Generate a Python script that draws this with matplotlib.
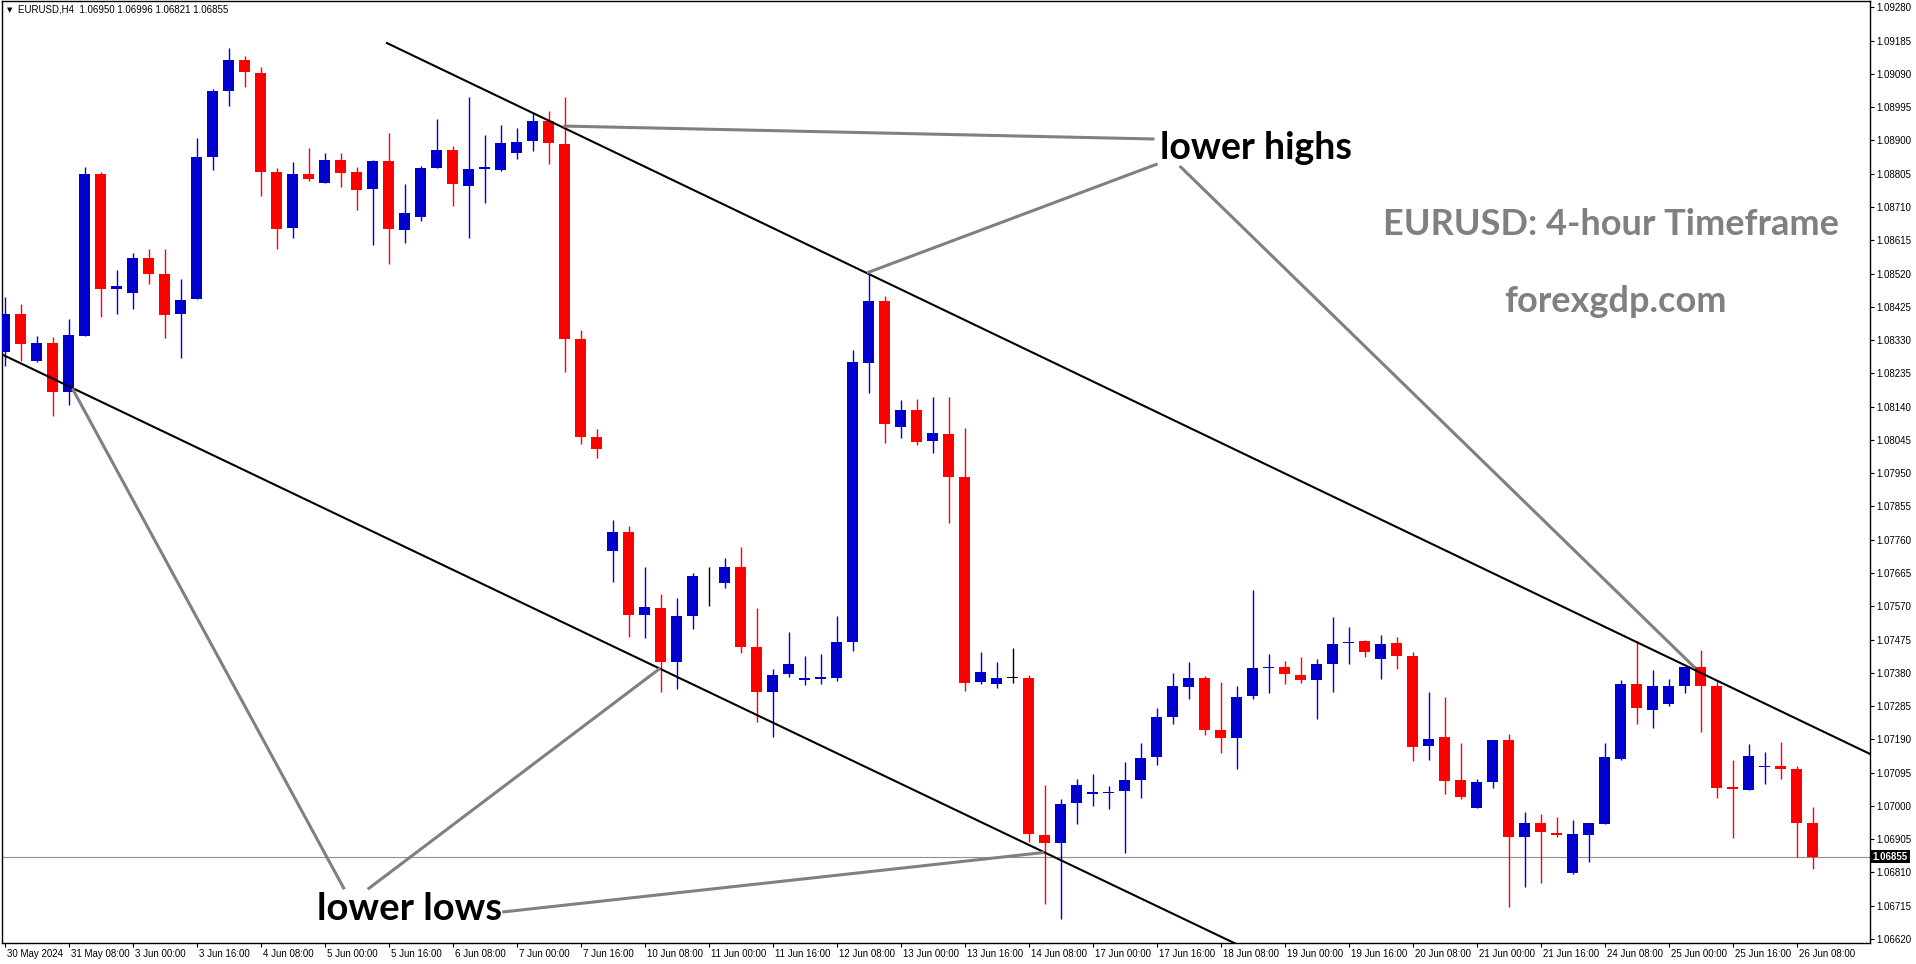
import matplotlib
matplotlib.use("Agg")
import matplotlib.pyplot as plt
import numpy as np
from matplotlib import transforms

symbol = "EURUSD,H4"
last_ohlc = "1.06950 1.06996 1.06821 1.06855"

# EURUSD H4 candles, 30 May 16:00 -> 26 Jun 12:00
opens = [1.08296, 1.08403, 1.08269, 1.08322, 1.08183, 1.08341, 1.08805, 1.08475, 1.08464, 1.08564,
         1.08519, 1.08404, 1.08447, 1.08852, 1.09040, 1.09129, 1.09092, 1.08810, 1.08650, 1.08805,
         1.08778, 1.08845, 1.08810, 1.08761, 1.08841, 1.08643, 1.08680, 1.08820, 1.08873, 1.08771,
         1.08819, 1.08815, 1.08864, 1.08898, 1.08955, 1.08891, 1.08334, 1.08054, 1.07727, 1.07783,
         1.07545, 1.07564, 1.07411, 1.07541, 1.07641, 1.07636, 1.07683, 1.07455, 1.07325, 1.07376,
         1.07359, 1.07362, 1.07364, 1.07468, 1.08264, 1.08441, 1.08083, 1.08131, 1.08041, 1.08062,
         1.07940, 1.07353, 1.07348, 1.07366, 1.07366, 1.06918, 1.06894, 1.07008, 1.07034, 1.07038,
         1.07043, 1.07074, 1.07139, 1.07253, 1.07339, 1.07364, 1.07217, 1.07194, 1.07313, 1.07394,
         1.07397, 1.07373, 1.07359, 1.07404, 1.07464, 1.07471, 1.07418, 1.07464, 1.07429, 1.07171,
         1.07196, 1.07073, 1.06994, 1.07068, 1.07187, 1.06911, 1.06950, 1.06924, 1.06808, 1.06916,
         1.06948, 1.07134, 1.07348, 1.07275, 1.07290, 1.07343, 1.07397, 1.07341, 1.07053, 1.07046,
         1.07111, 1.07115, 1.07106, 1.06950]
highs = [1.08454, 1.08434, 1.08341, 1.08338, 1.08389, 1.08824, 1.08810, 1.08531, 1.08578, 1.08590,
         1.08590, 1.08503, 1.08908, 1.09047, 1.09164, 1.09141, 1.09110, 1.08822, 1.08838, 1.08878,
         1.08864, 1.08864, 1.08824, 1.08845, 1.08922, 1.08776, 1.08826, 1.08961, 1.08885, 1.09024,
         1.08915, 1.08945, 1.08936, 1.08980, 1.08985, 1.09024, 1.08359, 1.08075, 1.07817, 1.07799,
         1.07683, 1.07606, 1.07594, 1.07666, 1.07683, 1.07708, 1.07739, 1.07566, 1.07392, 1.07497,
         1.07429, 1.07434, 1.07543, 1.08303, 1.08522, 1.08457, 1.08159, 1.08162, 1.08166, 1.08166,
         1.08080, 1.07439, 1.07411, 1.07452, 1.07373, 1.07060, 1.07020, 1.07076, 1.07092, 1.07057,
         1.07125, 1.07180, 1.07280, 1.07380, 1.07411, 1.07371, 1.07355, 1.07343, 1.07617, 1.07434,
         1.07415, 1.07425, 1.07420, 1.07538, 1.07510, 1.07475, 1.07489, 1.07482, 1.07438, 1.07324,
         1.07310, 1.07180, 1.07076, 1.07188, 1.07206, 1.06983, 1.06978, 1.06969, 1.06959, 1.06950,
         1.07180, 1.07360, 1.07471, 1.07389, 1.07362, 1.07397, 1.07445, 1.07357, 1.07132, 1.07178,
         1.07153, 1.07183, 1.07115, 1.06996]
lows = [1.08257, 1.08269, 1.08266, 1.08113, 1.08145, 1.08341, 1.08396, 1.08404, 1.08420, 1.08490,
        1.08336, 1.08278, 1.08447, 1.08815, 1.08998, 1.09052, 1.08741, 1.08589, 1.08620, 1.08783,
        1.08778, 1.08766, 1.08701, 1.08601, 1.08547, 1.08606, 1.08669, 1.08820, 1.08712, 1.08620,
        1.08720, 1.08812, 1.08848, 1.08871, 1.08833, 1.08240, 1.08033, 1.07994, 1.07640, 1.07482,
        1.07480, 1.07325, 1.07334, 1.07504, 1.07571, 1.07622, 1.07436, 1.07239, 1.07197, 1.07367,
        1.07345, 1.07348, 1.07357, 1.07441, 1.08178, 1.08036, 1.08050, 1.08031, 1.08008, 1.07808,
        1.07327, 1.07348, 1.07336, 1.07350, 1.06897, 1.06720, 1.06678, 1.06948, 1.06999, 1.06990,
        1.06866, 1.07022, 1.07117, 1.07234, 1.07304, 1.07203, 1.07152, 1.07104, 1.07304, 1.07322,
        1.07348, 1.07352, 1.07248, 1.07325, 1.07406, 1.07425, 1.07362, 1.07390, 1.07129, 1.07131,
        1.07034, 1.07020, 1.06994, 1.07052, 1.06711, 1.06769, 1.06780, 1.06911, 1.06806, 1.06839,
        1.06948, 1.07131, 1.07234, 1.07222, 1.07285, 1.07322, 1.07211, 1.07022, 1.06908, 1.07045,
        1.07062, 1.07076, 1.06855, 1.06821]
closes = [1.08403, 1.08318, 1.08322, 1.08183, 1.08345, 1.08805, 1.08475, 1.08485, 1.08564, 1.08520,
          1.08401, 1.08445, 1.08854, 1.09041, 1.09129, 1.09094, 1.08810, 1.08647, 1.08805, 1.08789,
          1.08845, 1.08806, 1.08757, 1.08841, 1.08647, 1.08694, 1.08822, 1.08873, 1.08775, 1.08819,
          1.08824, 1.08892, 1.08896, 1.08955, 1.08892, 1.08333, 1.08054, 1.08018, 1.07783, 1.07545,
          1.07568, 1.07411, 1.07543, 1.07657, 1.07641, 1.07683, 1.07453, 1.07325, 1.07374, 1.07406,
          1.07364, 1.07369, 1.07469, 1.08268, 1.08441, 1.08090, 1.08131, 1.08040, 1.08066, 1.07938,
          1.07350, 1.07383, 1.07366, 1.07366, 1.06920, 1.06894, 1.07006, 1.07059, 1.07039, 1.07041,
          1.07073, 1.07138, 1.07255, 1.07341, 1.07364, 1.07217, 1.07194, 1.07311, 1.07394, 1.07397,
          1.07376, 1.07359, 1.07406, 1.07461, 1.07469, 1.07438, 1.07462, 1.07427, 1.07168, 1.07192,
          1.07071, 1.07025, 1.07069, 1.07187, 1.06911, 1.06950, 1.06925, 1.06918, 1.06920, 1.06950,
          1.07139, 1.07348, 1.07280, 1.07343, 1.07343, 1.07397, 1.07343, 1.07052, 1.07048, 1.07143,
          1.07115, 1.07106, 1.06950, 1.06855]

time_labels = ["30 May 2024", "31 May 08:00", "3 Jun 00:00", "3 Jun 16:00", "4 Jun 08:00",
               "5 Jun 00:00", "5 Jun 16:00", "6 Jun 08:00", "7 Jun 00:00", "7 Jun 16:00",
               "10 Jun 08:00", "11 Jun 00:00", "11 Jun 16:00", "12 Jun 08:00", "13 Jun 00:00",
               "13 Jun 16:00", "14 Jun 08:00", "17 Jun 00:00", "17 Jun 16:00", "18 Jun 08:00",
               "19 Jun 00:00", "19 Jun 16:00", "20 Jun 08:00", "21 Jun 00:00", "21 Jun 16:00",
               "24 Jun 08:00", "25 Jun 00:00", "25 Jun 16:00", "26 Jun 08:00"]
price_ticks = [1.09280, 1.09185, 1.09090, 1.08995, 1.08900, 1.08805, 1.08710, 1.08615, 1.08520,
               1.08425, 1.08330, 1.08235, 1.08140, 1.08045, 1.07950, 1.07855, 1.07760, 1.07665,
               1.07570, 1.07475, 1.07380, 1.07285, 1.07190, 1.07095, 1.07000, 1.06905, 1.06810,
               1.06715, 1.06620]
bid = 1.06855

# drawn objects (bar index, price)
upper_channel = ([23.88, 116.59], [1.09178, 1.07148])
lower_channel = ([-0.175, 77.0], [1.08289, 1.06605])
highs_pointers = [([34.91, 71.85], [1.08941, 1.08904]),
                  ([53.89, 72.05], [1.08522, 1.08833]),
                  ([73.43, 105.64], [1.08827, 1.07394])]
lows_pointers = [([4.22, 21.22], [1.08192, 1.06762]),
                 ([22.68, 40.96], [1.06762, 1.07393]),
                 ([31.09, 64.94], [1.06697, 1.06867])]

BLUE = "#0000CD"
RED = "#FF0000"
small = ["Liberation Sans", "DejaVu Sans"]

fig = plt.figure(figsize=(19.16, 9.64), dpi=100)
ax = fig.add_axes([2 / 1916, 21 / 964, 1868 / 1916, 942 / 964])

o = np.array(opens)
h = np.array(highs)
l = np.array(lows)
c = np.array(closes)
x = np.arange(len(o))
cols = np.where(c > o, BLUE, np.where(c < o, RED, "black"))

ax.vlines(x, l, h, colors=cols, linewidth=1.0, zorder=3)
body_lo = np.minimum(o, c)
body_h = np.maximum(np.abs(c - o), 0.000022)
ax.bar(x, body_h, bottom=body_lo, width=0.69, color=cols, linewidth=0, zorder=4)

# bid line
ax.axhline(bid, color="#909090", linewidth=0.8, zorder=2)

# channel
ax.plot(*upper_channel, color="black", linewidth=1.5, zorder=5)
ax.plot(*lower_channel, color="black", linewidth=1.5, zorder=5)
for px, py in highs_pointers + lows_pointers:
    ax.plot(px, py, color="#808080", linewidth=2.2, zorder=6, solid_capstyle="butt")

ax.text(72.2, 1.08847, "lower highs", fontsize=27, fontweight="bold", family="Lato",
        color="black", ha="left", va="baseline", zorder=7)
ax.text(19.49, 1.06674, "lower lows", fontsize=27.5, fontweight="bold", family="Lato",
        color="black", ha="left", va="baseline", zorder=7)
ax.text(100.4, 1.08629, "EURUSD: 4-hour Timeframe", fontsize=26, fontweight="bold",
        family="Lato", color="#808080", ha="center", va="baseline", zorder=7)
ax.text(100.66, 1.08410, "forexgdp.com", fontsize=26, fontweight="bold",
        family="Lato", color="#808080", ha="center", va="baseline", zorder=7)

ax.set_xlim(-0.175, 116.575)
ax.set_ylim(1.066086, 1.09298)

ax.yaxis.tick_right()
ax.set_yticks(price_ticks)
ax.set_yticklabels([f"{v:.5f}" for v in price_ticks], family=small, fontsize=7)
ax.set_xticks(x[::4][:len(time_labels)])
ax.set_xticklabels(time_labels, family=small, fontsize=7, ha="left")
ax.tick_params(axis="both", direction="out", length=3, width=0.8, color="black", pad=1.5)
ax.xaxis.set_tick_params(pad=1)
offset = transforms.ScaledTranslation(2 / 100, 0, fig.dpi_scale_trans)
for t in ax.get_xticklabels():
    t.set_transform(t.get_transform() + offset)

for s in ax.spines.values():
    s.set_color("black")
    s.set_linewidth(1.0)

trans = transforms.blended_transform_factory(ax.transAxes, ax.transData)
ax.text(1.0015, bid, "1.06855", transform=trans, ha="left", va="center", color="white",
        family=small, fontsize=7, fontweight="bold",
        bbox=dict(facecolor="black", edgecolor="none", pad=1.2), zorder=8, clip_on=False)

fig.text(7 / 1916, 1 - 10 / 964, "\u25BC", family=["DejaVu Sans"], fontsize=5,
         ha="left", va="center")
fig.text(18 / 1916, 1 - 10 / 964, symbol + "  " + last_ohlc, family=small, fontsize=7,
         ha="left", va="center")

fig.savefig("out.png", dpi=100, facecolor="white")
